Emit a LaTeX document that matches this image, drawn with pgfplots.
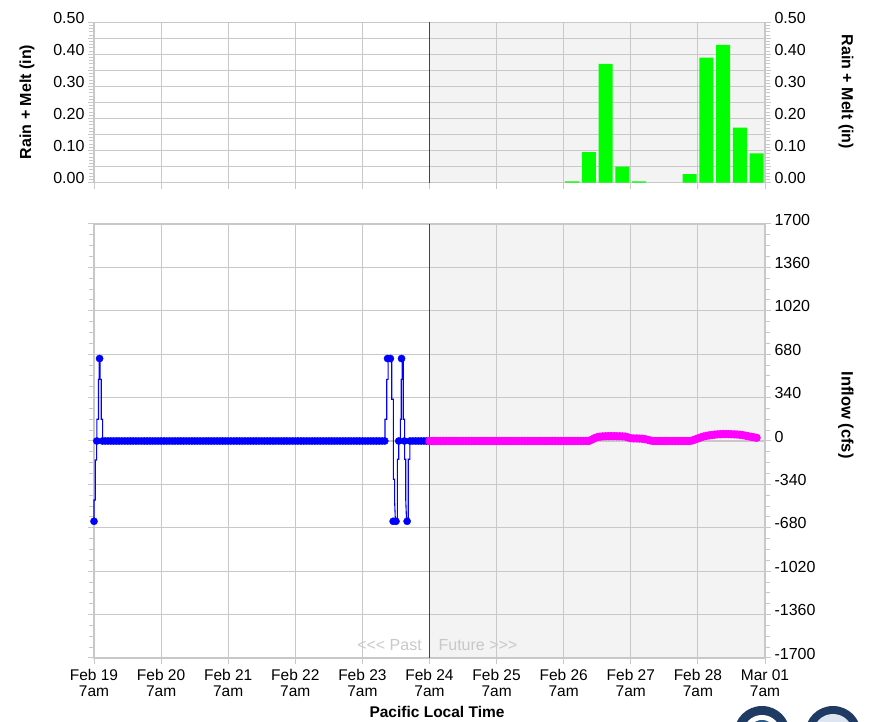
\documentclass[border=0pt]{standalone}
\usepackage{pgfplots}
\pgfplotsset{compat=1.18}
\usepackage{fontspec}
\setmainfont{Liberation Sans}

\definecolor{gridgray}{HTML}{C8C8C8}
\definecolor{futbg}{HTML}{F3F3F3}
\definecolor{obsblue}{HTML}{0000FF}
\definecolor{fcstmag}{HTML}{FF00FF}
\definecolor{raingreen}{HTML}{00FF00}
\definecolor{pastline}{HTML}{444444}
\definecolor{sealdark}{HTML}{1F3B63}
\definecolor{sealmid}{HTML}{2B5C8A}
\definecolor{seallight}{HTML}{DDE6F0}

\pgfplotsset{
  hydro/.style={
    scale only axis, width=671pt,
    xmin=0, xmax=240, xtick={0,24,...,240},
    grid=major, major grid style={gridgray, line width=1.1pt},
    axis line style={gridgray, line width=1.1pt},
    tick style={gridgray, line width=1pt},
    tick align=outside, major tick length=6pt, minor tick length=5pt,
    xticklabel style={font=\fontsize{15.5}{16}\selectfont},
    yticklabel style={font=\fontsize{16}{16}\selectfont, yshift=4.5pt},
    /pgf/number format/assume math mode=true,
    /pgf/number format/1000 sep={},
    set layers,
  },
  rainy/.style={
    ymin=0, ymax=0.5, ytick={0,0.05,...,0.5},
    yticklabels={0.00,,0.10,,0.20,,0.30,,0.40,,0.50},
    minor y tick num=4,
  },
}

\begin{document}
\begin{tikzpicture}

% ---- rain + melt panel
\begin{axis}[hydro, rainy, at={(94pt,539.3pt)}, anchor=south west, height=160.4pt,
  xticklabels={}, xtick pos=left, ytick pos=both, yticklabel pos=left]
\begin{pgfonlayer}{axis background}
\fill[futbg] (axis cs:120,0) rectangle (axis cs:240,0.5);
\end{pgfonlayer}
\addplot[ybar, bar width=14pt, fill=raingreen, draw=none] coordinates {
  (171,0.004) (177,0.095) (183,0.37) (189,0.05) (195,0.004)
  (213,0.027) (219,0.39) (225,0.43) (231,0.172) (237,0.091)};
\draw[pastline, line width=1.3pt] (axis cs:120,0) -- (axis cs:120,0.5);
\end{axis}

% right-hand labels of the rain panel
\begin{axis}[hydro, rainy, at={(94pt,539.3pt)}, anchor=south west, height=160.4pt,
  grid=none, hide x axis, axis y line*=right]
\addplot[draw=none] coordinates {(0,0) (240,0.5)};
\end{axis}

% ---- inflow panel
\begin{axis}[hydro, at={(94pt,64pt)}, anchor=south west, height=434pt, clip=false,
  ymin=-1700, ymax=1700, ytick={-1700,-1360,...,1700}, minor y tick num=3,
  xtick pos=left, ytick pos=both, yticklabel pos=right,
  yticklabel style={anchor=west},
  xticklabels={{Feb 19\\7am},{Feb 20\\7am},{Feb 21\\7am},{Feb 22\\7am},{Feb 23\\7am},
    {Feb 24\\7am},{Feb 25\\7am},{Feb 26\\7am},{Feb 27\\7am},{Feb 28\\7am},{Mar 01\\7am}},
  xticklabel style={align=center, yshift=-2pt}]
\begin{pgfonlayer}{axis background}
\fill[futbg] (axis cs:120,-1700) rectangle (axis cs:240,1700);
\end{pgfonlayer}
% observed (sub-hourly trace)
\addplot[obsblue, line width=1.1pt] coordinates {
  (0,-629) (0,-462) (0.45,-462) (0.45,-149) (0.95,-149) (0.95,0) (1.05,0) (1.05,170)
  (1.6,170) (1.6,483) (1.85,483) (1.85,646) (2.2,646) (2.2,483) (2.6,483) (2.6,170)
  (3.1,170) (3.1,0) (104.1,0) (104.1,170) (104.7,170) (104.7,483) (105.2,483) (105.2,646)
  (106.5,646) (106.5,327) (107.1,327) (107.1,-300) (107.5,-300) (107.5,-457) (107.8,-629)
  (108.5,-629) (108.5,-143) (109.0,-143) (109.0,0) (109.6,0) (109.6,170) (109.9,170)
  (109.9,483) (110.2,483) (110.2,646) (110.6,646) (110.6,170) (111.1,170) (111.1,-143)
  (111.5,-143) (111.5,-457) (111.8,-629) (112.4,-629) (112.4,-143) (113,-143) (113,0) (120,0)};
% observed hourly
\addplot[only marks, mark=*, mark size=3.6pt, obsblue] coordinates {
  (0,-629) (1,0) (2,646) (3,0) (4,0) (5,0) (6,0) (7,0) (8,0) (9,0)
  (10,0) (11,0) (12,0) (13,0) (14,0) (15,0) (16,0) (17,0) (18,0) (19,0)
  (20,0) (21,0) (22,0) (23,0) (24,0) (25,0) (26,0) (27,0) (28,0) (29,0)
  (30,0) (31,0) (32,0) (33,0) (34,0) (35,0) (36,0) (37,0) (38,0) (39,0)
  (40,0) (41,0) (42,0) (43,0) (44,0) (45,0) (46,0) (47,0) (48,0) (49,0)
  (50,0) (51,0) (52,0) (53,0) (54,0) (55,0) (56,0) (57,0) (58,0) (59,0)
  (60,0) (61,0) (62,0) (63,0) (64,0) (65,0) (66,0) (67,0) (68,0) (69,0)
  (70,0) (71,0) (72,0) (73,0) (74,0) (75,0) (76,0) (77,0) (78,0) (79,0)
  (80,0) (81,0) (82,0) (83,0) (84,0) (85,0) (86,0) (87,0) (88,0) (89,0)
  (90,0) (91,0) (92,0) (93,0) (94,0) (95,0) (96,0) (97,0) (98,0) (99,0)
  (100,0) (101,0) (102,0) (103,0) (104,0) (105,646) (106,646) (107,-629) (108,-629) (109,0)
  (110,646) (111,0) (112,-629) (113,0) (114,0) (115,0) (116,0) (117,0) (118,0) (119,0)
  (120,0)};
% forecast hourly
\addplot[fcstmag, line width=1.1pt, mark=*, mark size=3.6pt] coordinates {
  (120,0) (121,0) (122,0) (123,0) (124,0) (125,0) (126,0) (127,0) (128,0) (129,0)
  (130,0) (131,0) (132,0) (133,0) (134,0) (135,0) (136,0) (137,0) (138,0) (139,0)
  (140,0) (141,0) (142,0) (143,0) (144,0) (145,0) (146,0) (147,0) (148,0) (149,0)
  (150,0) (151,0) (152,0) (153,0) (154,0) (155,0) (156,0) (157,0) (158,0) (159,0)
  (160,0) (161,0) (162,0) (163,0) (164,0) (165,0) (166,0) (167,0) (168,0) (169,0)
  (170,0) (171,0) (172,0) (173,0) (174,0) (175,0) (176,0) (177,0) (178,10) (179,22)
  (180,30) (181,34) (182,36) (183,37) (184,38) (185,38) (186,38) (187,37) (188,37) (189,36)
  (190,35) (191,28) (192,22) (193,20) (194,20) (195,19) (196,18) (197,15) (198,10) (199,4)
  (200,0) (201,0) (202,0) (203,0) (204,0) (205,0) (206,0) (207,0) (208,0) (209,0)
  (210,0) (211,0) (212,0) (213,0) (214,4) (215,12) (216,20) (217,28) (218,35) (219,40)
  (220,44) (221,47) (222,50) (223,52) (224,53) (225,54) (226,54) (227,54) (228,53) (229,52)
  (230,51) (231,49) (232,46) (233,42) (234,37) (235,33) (236,29) (237,25)};
\draw[pastline, line width=1.3pt] (axis cs:120,-1700) -- (axis cs:120,1700);
\node[anchor=east, text=gridgray, font=\fontsize{16}{16}\selectfont] at (axis cs:118.5,-1600) {{<}{<}{<} Past};
\node[anchor=west, text=gridgray, font=\fontsize{16}{16}\selectfont] at (axis cs:122,-1600) {Future {>}{>}{>}};
\end{axis}

% axis titles
\node[rotate=90, font=\bfseries\fontsize{16}{16}\selectfont] at (27pt,620pt) {Rain + Melt (in)};
\node[rotate=-90, font=\bfseries\fontsize{16}{16}\selectfont] at (846pt,630pt) {Rain + Melt (in)};
\node[rotate=-90, font=\bfseries\fontsize{16.5}{16}\selectfont] at (846pt,307pt) {Inflow (cfs)};
\node[font=\bfseries\fontsize{15.5}{16}\selectfont] at (437pt,10pt) {Pacific Local Time};

% agency seals, cut off at the lower edge
\fill[sealdark] (762pt,-12pt) circle (28pt);
\fill[white] (762pt,-12pt) circle (19pt);
\fill[sealmid] (762pt,-12pt) circle (14pt);
\fill[sealdark] (833pt,-12pt) circle (28pt);
\fill[seallight] (833pt,-12pt) circle (20pt);

\pgfresetboundingbox
\path[use as bounding box] (0,0) rectangle (871pt,722pt);
\end{tikzpicture}
\end{document}
